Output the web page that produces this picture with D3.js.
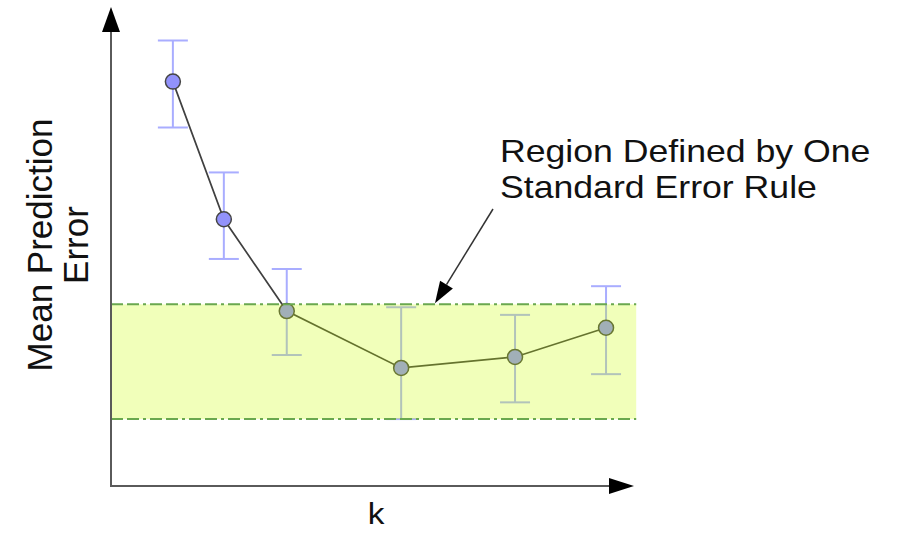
<!DOCTYPE html>
<html>
<head>
<meta charset="utf-8">
<script src="https://cdn.jsdelivr.net/npm/d3@7"></script>
<style>
  html, body { margin: 0; padding: 0; background: #fff; }
  svg { display: block; }
  text { font-family: "Liberation Sans", Arial, sans-serif; fill: #111; }
</style>
</head>
<body>
<svg id="chart" width="902" height="536"></svg>
<script>
// ---- data ----
const kValues   = [1.19, 2.17, 3.38, 5.58, 7.77, 9.52];
const meanError = [8.46, 5.58, 3.66, 2.47, 2.70, 3.31];
const errUpper  = [9.32, 6.56, 4.54, 3.74, 3.58, 4.18];
const errLower  = [7.50, 4.75, 2.74, 1.40, 1.75, 2.34];
const bandRange = [1.40, 3.80];   // one-standard-error region
const xLabel = "k";
const yLabelLines = ["Mean Prediction", "Error"];
const noteLines = ["Region Defined by One", "Standard Error Rule"];

const data = kValues.map((k, i) => ({ k, m: meanError[i], lo: errLower[i], hi: errUpper[i] }));

const svg = d3.select("#chart");
const x = d3.scaleLinear().domain([0, 10]).range([111, 631]);
const y = d3.scaleLinear().domain([0, 10]).range([486, 8]);

const axisColor = "#5a5a5a";
const capW = 15;

// ---- error bars ----
const eb = svg.append("g").attr("stroke", "#a9adff").attr("stroke-width", 2).attr("fill", "none");
data.forEach(d => {
  eb.append("line").attr("x1", x(d.k)).attr("x2", x(d.k)).attr("y1", y(d.hi)).attr("y2", y(d.lo));
  eb.append("line").attr("x1", x(d.k) - capW).attr("x2", x(d.k) + capW).attr("y1", y(d.hi)).attr("y2", y(d.hi));
  eb.append("line").attr("x1", x(d.k) - capW).attr("x2", x(d.k) + capW).attr("y1", y(d.lo)).attr("y2", y(d.lo));
});

// ---- line ----
svg.append("path")
  .datum(data)
  .attr("fill", "none")
  .attr("stroke", "#404040")
  .attr("stroke-width", 1.7)
  .attr("d", d3.line().x(d => x(d.k)).y(d => y(d.m)));

// ---- points ----
svg.append("g").selectAll("circle").data(data).join("circle")
  .attr("cx", d => x(d.k)).attr("cy", d => y(d.m)).attr("r", 7.5)
  .attr("fill", "#9292fb").attr("stroke", "#454545").attr("stroke-width", 1.5);

// ---- band overlay ----
const bandX0 = x(0), bandX1 = x(10.1);
svg.append("rect")
  .attr("x", bandX0).attr("width", bandX1 - bandX0)
  .attr("y", y(bandRange[1])).attr("height", y(bandRange[0]) - y(bandRange[1]))
  .attr("fill", "rgb(204,255,0)").attr("fill-opacity", 0.27);

svg.append("g").selectAll("line").data(bandRange).join("line")
  .attr("x1", bandX0).attr("x2", bandX1)
  .attr("y1", d => y(d)).attr("y2", d => y(d))
  .attr("stroke", "#6aa84f").attr("stroke-width", 2)
  .attr("stroke-dasharray", "12,4,12,4,3,4");

// ---- axes ----
const ax = svg.append("g");
const x0 = x(0), y0 = y(0);
ax.append("line").attr("x1", x0).attr("x2", x0).attr("y1", y0 + 1).attr("y2", 30)
  .attr("stroke", axisColor).attr("stroke-width", 2);
ax.append("path").attr("d", `M${x0},7 L${x0 - 9},32 L${x0 + 9},32 Z`).attr("fill", "#000");
ax.append("line").attr("x1", x0 - 1).attr("x2", 612).attr("y1", y0).attr("y2", y0)
  .attr("stroke", axisColor).attr("stroke-width", 2);
ax.append("path").attr("d", `M634,${y0} L609,${y0 - 8} L609,${y0 + 8} Z`).attr("fill", "#000");

// ---- axis labels ----
svg.append("text")
  .attr("transform", "translate(376,524) scale(1.15,1)")
  .attr("text-anchor", "middle")
  .style("font-size", "29px")
  .text(xLabel);

yLabelLines.forEach((t, i) => {
  svg.append("text")
    .attr("transform", `translate(${52 + i * 36},245) rotate(-90)`)
    .attr("text-anchor", "middle")
    .style("font-size", "35px")
    .text(t);
});

// ---- annotation ----
const note = svg.append("g").attr("transform", "translate(500,0) scale(1.15,1)");
noteLines.forEach((t, i) => {
  note.append("text").attr("x", 0).attr("y", 162 + i * 36.5)
    .style("font-size", "31px").text(t);
});

const tipX = x(6.23), tipY = y(bandRange[1]) - 1;
const sx = 493, sy = 209;
const ang = Math.atan2(tipY - sy, tipX - sx);
const hl = 22, hw = 7.5;
const bx = tipX - hl * Math.cos(ang), by = tipY - hl * Math.sin(ang);
svg.append("line").attr("x1", sx).attr("y1", sy).attr("x2", bx).attr("y2", by)
  .attr("stroke", "#333").attr("stroke-width", 1.5);
svg.append("path")
  .attr("d", `M${tipX},${tipY} L${bx + hw * Math.sin(ang)},${by - hw * Math.cos(ang)} L${bx - hw * Math.sin(ang)},${by + hw * Math.cos(ang)} Z`)
  .attr("fill", "#000");
</script>
</body>
</html>
